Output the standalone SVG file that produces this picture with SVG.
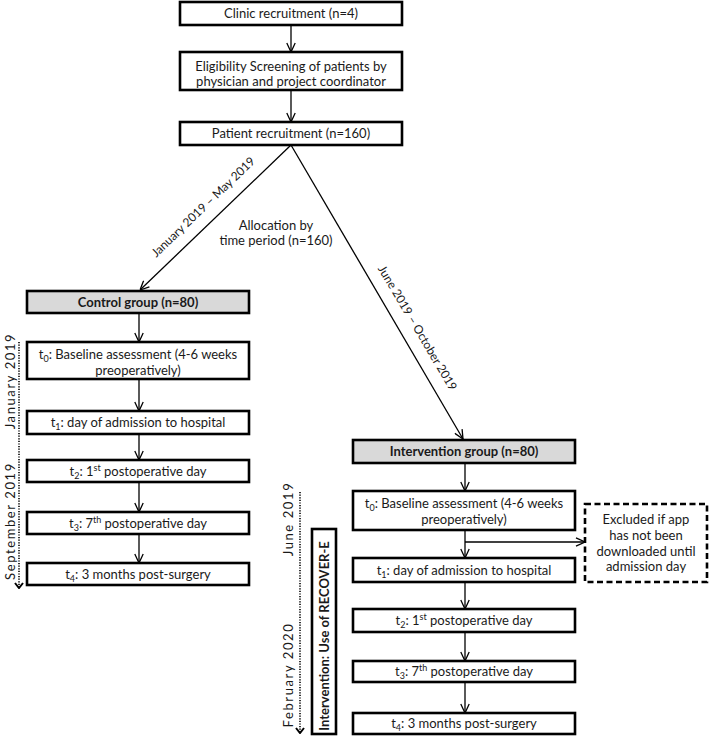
<svg xmlns="http://www.w3.org/2000/svg" width="709" height="737" viewBox="0 0 709 737">
<style>
text{font-family:Lato,"Liberation Sans",sans-serif;font-size:13px;fill:#1a1a1a}
.b{fill:#fff;stroke:#000;stroke-width:2.6}
.g{fill:#d9d9d9;stroke:#000;stroke-width:2.6}
.d{fill:#fff;stroke:#000;stroke-width:2.6;stroke-dasharray:6 3.5}
.c{text-anchor:middle}
.bold{font-weight:bold}
.ln{stroke:#000;stroke-width:1.3;fill:none}
.dot{stroke:#000;stroke-width:1.6;stroke-dasharray:1.2 1.4;fill:none}
.sp{letter-spacing:1.6px}
.sm{font-size:9px}
</style>
<defs>
<marker id="ah" viewBox="0 0 10 10" refX="10" refY="5" markerWidth="10" markerHeight="10" markerUnits="userSpaceOnUse" orient="auto"><path d="M1,0.8 L10,5 L1,9.2" fill="none" stroke="#000" stroke-width="1.3"/></marker>
<marker id="ch" viewBox="0 0 10 10" refX="5" refY="9" markerWidth="10" markerHeight="10" markerUnits="userSpaceOnUse" orient="0"><path d="M1,4 L5,9 L9,4" fill="none" stroke="#000" stroke-width="2"/></marker>
</defs>

<g id="connectors">
<line class="ln" x1="291" y1="25" x2="291" y2="52" marker-end="url(#ah)"/>
<line class="ln" x1="291" y1="90" x2="291" y2="122" marker-end="url(#ah)"/>
<line class="ln" x1="291" y1="145" x2="140" y2="290" marker-end="url(#ah)"/>
<line class="ln" x1="291" y1="145" x2="463" y2="439" marker-end="url(#ah)"/>
<line class="ln" x1="139" y1="313" x2="139" y2="342" marker-end="url(#ah)"/>
<line class="ln" x1="139" y1="379" x2="139" y2="411" marker-end="url(#ah)"/>
<line class="ln" x1="139" y1="434" x2="139" y2="460" marker-end="url(#ah)"/>
<line class="ln" x1="139" y1="482" x2="139" y2="512" marker-end="url(#ah)"/>
<line class="ln" x1="139" y1="534" x2="139" y2="563" marker-end="url(#ah)"/>
<line class="ln" x1="465" y1="463" x2="465" y2="491" marker-end="url(#ah)"/>
<line class="ln" x1="465" y1="530" x2="465" y2="558" marker-end="url(#ah)"/>
<line class="ln" x1="465" y1="542" x2="585" y2="542" marker-end="url(#ah)"/>
<line class="ln" x1="465" y1="582" x2="465" y2="609" marker-end="url(#ah)"/>
<line class="ln" x1="465" y1="632" x2="465" y2="661" marker-end="url(#ah)"/>
<line class="ln" x1="465" y1="682" x2="465" y2="713" marker-end="url(#ah)"/>
<line class="dot" x1="19" y1="342" x2="19" y2="588" marker-end="url(#ch)"/>
<line class="dot" x1="300" y1="492" x2="300" y2="733" marker-end="url(#ch)"/>
</g>

<g id="edge-labels">
<text class="c" font-size="12" transform="translate(206,210) rotate(-43.8)" style="font-size:12px">January 2019 – May 2019</text>
<text class="c" style="font-size:12px" transform="translate(414,330) rotate(59.4)">June 2019 – October 2019</text>
<text class="c" x="276" y="230">Allocation by</text>
<text class="c" x="276" y="245">time period (n=160)</text>
</g>

<g id="n-clinic"><rect class="b" x="180" y="2" width="222" height="23"/><text class="c" x="291" y="18">Clinic recruitment (n=4)</text></g>
<g id="n-eligibility"><rect class="b" x="180" y="52" width="222" height="38"/><text class="c" x="291" y="71">Eligibility Screening of patients by</text><text class="c" x="291" y="86">physician and project coordinator</text></g>
<g id="n-patient"><rect class="b" x="180" y="122" width="222" height="23"/><text class="c" x="291" y="138">Patient recruitment (n=160)</text></g>

<g id="n-control"><rect class="g" x="27" y="291" width="222" height="22"/><text class="c bold" x="138" y="307">Control group (n=80)</text></g>
<g id="c-t0"><rect class="b" x="27" y="342" width="222" height="37"/><text class="c" x="138" y="359">t<tspan class="sm" dy="3">0</tspan><tspan dy="-3">: Baseline assessment (4-6 weeks</tspan></text><text class="c" x="138" y="375">preoperatively)</text></g>
<g id="c-t1"><rect class="b" x="27" y="411" width="222" height="23"/><text class="c" x="138" y="427">t<tspan class="sm" dy="3">1</tspan><tspan dy="-3">: day of admission to hospital</tspan></text></g>
<g id="c-t2"><rect class="b" x="27" y="460" width="222" height="22"/><text class="c" x="138" y="476">t<tspan class="sm" dy="3">2</tspan><tspan dy="-3">: 1</tspan><tspan class="sm" dy="-5">st</tspan><tspan dy="5"> postoperative day</tspan></text></g>
<g id="c-t3"><rect class="b" x="27" y="512" width="222" height="22"/><text class="c" x="138" y="528">t<tspan class="sm" dy="3">3</tspan><tspan dy="-3">: 7</tspan><tspan class="sm" dy="-5">th</tspan><tspan dy="5"> postoperative day</tspan></text></g>
<g id="c-t4"><rect class="b" x="27" y="563" width="222" height="22"/><text class="c" x="138" y="579">t<tspan class="sm" dy="3">4</tspan><tspan dy="-3">: 3 months post-surgery</tspan></text></g>

<g id="n-intervention"><rect class="g" x="353" y="440" width="222" height="23"/><text class="c bold" x="464" y="456">Intervention group (n=80)</text></g>
<g id="i-t0"><rect class="b" x="353" y="491" width="222" height="39"/><text class="c" x="464" y="508">t<tspan class="sm" dy="3">0</tspan><tspan dy="-3">: Baseline assessment (4-6 weeks</tspan></text><text class="c" x="464" y="524">preoperatively)</text></g>
<g id="i-t1"><rect class="b" x="353" y="558" width="222" height="24"/><text class="c" x="464" y="575">t<tspan class="sm" dy="3">1</tspan><tspan dy="-3">: day of admission to hospital</tspan></text></g>
<g id="i-t2"><rect class="b" x="353" y="609" width="222" height="23"/><text class="c" x="464" y="625">t<tspan class="sm" dy="3">2</tspan><tspan dy="-3">: 1</tspan><tspan class="sm" dy="-5">st</tspan><tspan dy="5"> postoperative day</tspan></text></g>
<g id="i-t3"><rect class="b" x="353" y="661" width="222" height="21"/><text class="c" x="464" y="676">t<tspan class="sm" dy="3">3</tspan><tspan dy="-3">: 7</tspan><tspan class="sm" dy="-5">th</tspan><tspan dy="5"> postoperative day</tspan></text></g>
<g id="i-t4"><rect class="b" x="353" y="713" width="222" height="21"/><text class="c" x="464" y="728">t<tspan class="sm" dy="3">4</tspan><tspan dy="-3">: 3 months post-surgery</tspan></text></g>

<g id="n-excluded"><rect class="d" x="585" y="504" width="122" height="78"/>
<text class="c" x="646" y="524">Excluded if app</text><text class="c" x="646" y="540">has not been</text><text class="c" x="646" y="556">downloaded until</text><text class="c" x="646" y="571">admission day</text></g>

<g id="n-recover"><rect class="b" x="312" y="529" width="24" height="205"/><text class="c bold" transform="translate(329,636) rotate(-90)">Intervention: Use of RECOVER-E</text></g>

<g id="timeline-labels">
<text class="c sp" transform="translate(15,381) rotate(-90)">January 2019</text>
<text class="c sp" transform="translate(15,521) rotate(-90)">September 2019</text>
<text class="c sp" transform="translate(293,519) rotate(-90)">June 2019</text>
<text class="c sp" transform="translate(293,675) rotate(-90)">February 2020</text>
</g>
</svg>
